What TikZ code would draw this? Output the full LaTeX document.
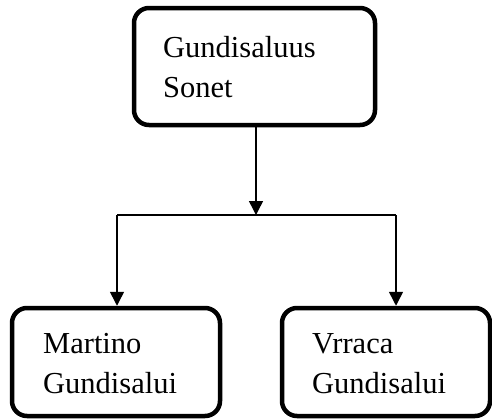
\documentclass[tikz,border=0pt]{standalone}
\usepackage{fontspec}
\setmainfont{Liberation Serif}
\usetikzlibrary{arrows.meta}
\begin{document}
\begin{tikzpicture}[x=1pt,y=-1pt,
  box/.style={draw, line width=4.5pt, rounded corners=15pt, inner sep=0pt},
  lbl/.style={anchor=base west, inner sep=0pt, font=\fontsize{30.5}{40}\selectfont},
  conn/.style={line width=1.5pt},
  arr/.style={line width=1.5pt, -{Triangle[length=14pt,width=14pt]}}]
\useasboundingbox (0,0) rectangle (492,418);
\node[box, minimum width=241pt, minimum height=117pt] (top) at (254.5,66.5) {};
\node[box, minimum width=208pt, minimum height=108pt] (left) at (116,362) {};
\node[box, minimum width=208pt, minimum height=108pt] (right) at (386,362) {};
\node[lbl] (t1) at (163,57) {Gundisaluus};
\node[lbl] (t2) at (163,97) {Sonet};
\node[lbl] (l1) at (43,353) {Martino};
\node[lbl] (l2) at (43,393) {Gundisalui};
\node[lbl] (r1) at (312,353) {Vrraca};
\node[lbl] (r2) at (312,393) {Gundisalui};
\coordinate (j) at (256,215);
\coordinate (jl) at (117,215);
\coordinate (jr) at (396,215);
\draw[arr] (top.south -| j) -- (j);
\draw[conn] (jl) -- (jr);
\draw[arr] (jl) -- (left.north -| jl);
\draw[arr] (jr) -- (right.north -| jr);
\end{tikzpicture}
\end{document}
